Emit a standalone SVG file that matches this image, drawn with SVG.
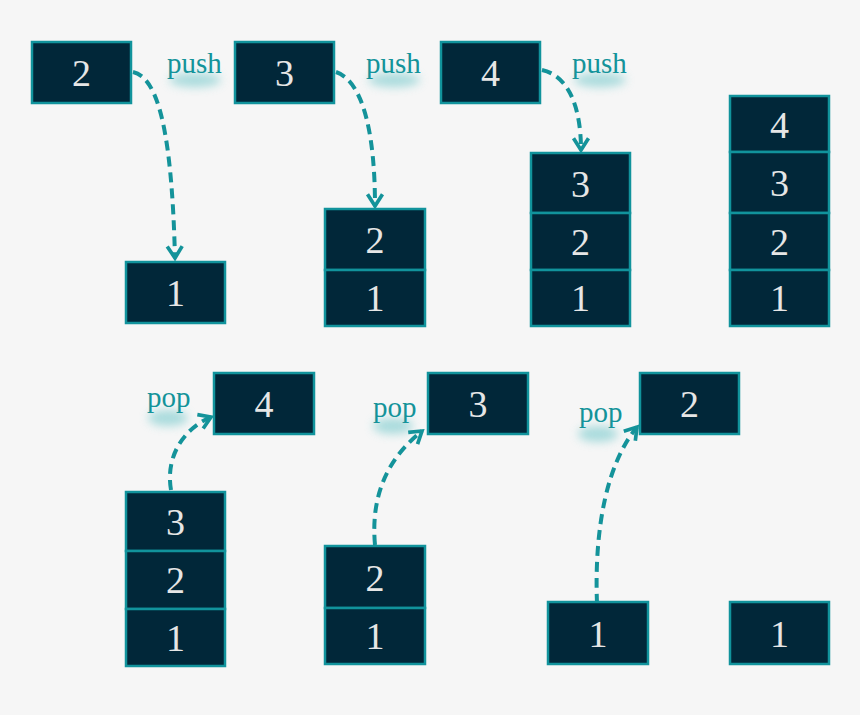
<svg xmlns="http://www.w3.org/2000/svg" width="860" height="715" viewBox="0 0 860 715">
<style>
.box{fill:#012739;stroke:#11939c;stroke-width:2.5}
.num{font-family:"Liberation Serif",serif;font-size:38px;fill:#e6e6e6;text-anchor:middle}
.lbl{font-family:"Liberation Serif",serif;font-size:29px;fill:#14939a}
.arr{fill:none;stroke:#14939a;stroke-width:4;stroke-dasharray:10 6;marker-end:url(#ah)}
.glow{fill:#8fd2d4;opacity:0.75;filter:url(#bl)}
</style>
<defs>
<marker id="ah" viewBox="0 0 12 12" refX="9" refY="6" markerWidth="5" markerHeight="5" orient="auto" markerUnits="strokeWidth">
<path d="M2,1.5 L9,6 L2,10.5" fill="none" stroke="#14939a" stroke-width="2.2"/>
</marker>
<filter id="bl" x="-50%" y="-100%" width="200%" height="300%"><feGaussianBlur stdDeviation="5"/></filter>
</defs>
<rect width="860" height="715" fill="#f6f6f6"/>

<g id="labels">
<ellipse class="glow" cx="195" cy="80" rx="26" ry="7"/>
<ellipse class="glow" cx="394" cy="80" rx="26" ry="7"/>
<ellipse class="glow" cx="600" cy="80" rx="26" ry="7"/>
<ellipse class="glow" cx="168" cy="418" rx="20" ry="8"/>
<ellipse class="glow" cx="393" cy="426" rx="20" ry="8"/>
<ellipse class="glow" cx="598" cy="434" rx="20" ry="8"/>
<text class="lbl" x="167" y="73">push</text>
<text class="lbl" x="366" y="73">push</text>
<text class="lbl" x="572" y="73">push</text>
<text class="lbl" x="147" y="407">pop</text>
<text class="lbl" x="373" y="417">pop</text>
<text class="lbl" x="579" y="422">pop</text>
</g>

<g id="connectors">
<path class="arr" d="M133,72 C160,78 172,140 175,258"/>
<path class="arr" d="M336,72 C365,82 375,140 375,206"/>
<path class="arr" d="M542,70 C570,76 581,110 581,150"/>
<path class="arr" d="M171,490 C165,455 185,428 211,417"/>
<path class="arr" d="M375,545 C370,490 392,455 422,431"/>
<path class="arr" d="M597,604 C594,525 608,462 637,427"/>
</g>

<g id="in2"><rect class="box" x="32" y="42" width="99" height="61"/><text class="num" x="81.5" y="86">2</text></g>
<g id="in3"><rect class="box" x="235" y="42" width="99" height="61"/><text class="num" x="284.5" y="86">3</text></g>
<g id="in4"><rect class="box" x="441" y="42" width="99" height="61"/><text class="num" x="490.5" y="86">4</text></g>

<g id="s1"><rect class="box" x="126" y="262" width="99" height="61"/><text class="num" x="175.5" y="306">1</text></g>

<g id="s2">
<rect class="box" x="325" y="209" width="100" height="61"/><text class="num" x="375" y="253">2</text>
<rect class="box" x="325" y="270" width="100" height="56"/><text class="num" x="375" y="311">1</text>
</g>

<g id="s3">
<rect class="box" x="531" y="153" width="99" height="60"/><text class="num" x="580.5" y="197">3</text>
<rect class="box" x="531" y="213" width="99" height="57"/><text class="num" x="580.5" y="255">2</text>
<rect class="box" x="531" y="270" width="99" height="56"/><text class="num" x="580.5" y="311">1</text>
</g>

<g id="s4">
<rect class="box" x="730" y="96" width="99" height="56"/><text class="num" x="779.5" y="138">4</text>
<rect class="box" x="730" y="152" width="99" height="61"/><text class="num" x="779.5" y="196">3</text>
<rect class="box" x="730" y="213" width="99" height="57"/><text class="num" x="779.5" y="255">2</text>
<rect class="box" x="730" y="270" width="99" height="56"/><text class="num" x="779.5" y="311">1</text>
</g>

<g id="out4"><rect class="box" x="214" y="373" width="100" height="61"/><text class="num" x="264" y="417">4</text></g>
<g id="out3"><rect class="box" x="428" y="373" width="100" height="61"/><text class="num" x="478" y="417">3</text></g>
<g id="out2"><rect class="box" x="640" y="373" width="99" height="61"/><text class="num" x="689.5" y="417">2</text></g>

<g id="p1">
<rect class="box" x="126" y="492" width="99" height="59"/><text class="num" x="175.5" y="535">3</text>
<rect class="box" x="126" y="551" width="99" height="58"/><text class="num" x="175.5" y="593">2</text>
<rect class="box" x="126" y="609" width="99" height="57"/><text class="num" x="175.5" y="651">1</text>
</g>

<g id="p2">
<rect class="box" x="325" y="546" width="100" height="62"/><text class="num" x="375" y="591">2</text>
<rect class="box" x="325" y="608" width="100" height="56"/><text class="num" x="375" y="649">1</text>
</g>

<g id="p3"><rect class="box" x="548" y="602" width="100" height="62"/><text class="num" x="598" y="647">1</text></g>
<g id="p4"><rect class="box" x="730" y="602" width="99" height="62"/><text class="num" x="779.5" y="647">1</text></g>
</svg>
